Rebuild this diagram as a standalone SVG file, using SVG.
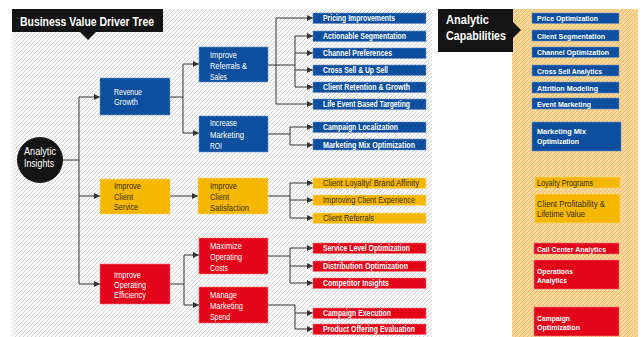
<svg xmlns="http://www.w3.org/2000/svg" width="642" height="337" viewBox="0 0 642 337">
<defs>
<pattern id="hatchGrey" patternUnits="userSpaceOnUse" width="4" height="4">
<rect width="4" height="4" fill="#ffffff"/>
<path d="M-1,1 l2,-2 M0,4 l4,-4 M3,5 l2,-2" stroke="#c4c4c4" stroke-width="0.8"/>
</pattern>
<pattern id="hatchOrange" patternUnits="userSpaceOnUse" width="4" height="4">
<rect width="4" height="4" fill="#fbd899"/>
<path d="M-1,1 l2,-2 M0,4 l4,-4 M3,5 l2,-2" stroke="#eab55e" stroke-width="0.8"/>
</pattern>
<marker id="arr" markerUnits="userSpaceOnUse" markerWidth="6" markerHeight="6" refX="6" refY="3" orient="auto">
<path d="M0,0 L6,3 L0,6 z" fill="#333"/>
</marker>
</defs>
<style>
text{font-family:"Liberation Sans",Arial,sans-serif}
.blue{fill:#0c4f9e;stroke:#6d8fc8;stroke-width:0.6}
.yel{fill:#f5b700;stroke:#f9d77a;stroke-width:0.6}
.red{fill:#e2051a;stroke:#f07a85;stroke-width:0.6}
.lv{font-size:9.5px;fill:#ffffff}
.lvd{font-size:9.5px;fill:#3a2e08}
.lf{font-size:8.3px;font-weight:bold;fill:#ffffff}
.lfd{font-size:8.5px;fill:#3a2e08}
.cap{font-size:8px;font-weight:bold;fill:#ffffff}
.capd{font-size:8.4px;fill:#3a2e08}
.conn path{fill:none;stroke:#333;stroke-width:1}
.a{marker-end:url(#arr)}
</style>

<rect x="12" y="9" width="420" height="328" fill="url(#hatchGrey)"/>
<rect x="512" y="9" width="126" height="328" fill="url(#hatchOrange)"/>

<g id="title">
<rect x="12" y="9" width="151" height="23" fill="#141414"/>
<path d="M80,32 L88,40 L96,32 z" fill="#141414"/>
<text x="20" y="25.5" font-size="13.5" font-weight="bold" fill="#ffffff" textLength="134" lengthAdjust="spacingAndGlyphs">Business Value Driver Tree</text>
</g>

<g id="capTitle">
<rect x="438" y="9" width="75" height="43" fill="#141414"/>
<path d="M513,22 L521,30 L513,38 z" fill="#141414"/>
<text x="446" y="24" font-size="12.5" font-weight="bold" fill="#ffffff" textLength="43" lengthAdjust="spacingAndGlyphs">Analytic</text>
<text x="446" y="39.5" font-size="12.5" font-weight="bold" fill="#ffffff" textLength="60" lengthAdjust="spacingAndGlyphs">Capabilities</text>
</g>

<g class="conn" id="connectors">
<path d="M63,160 H79 M79,97 V284"/>
<path class="a" d="M79,97 H100"/>
<path class="a" d="M79,196 H100"/>
<path class="a" d="M79,284 H100"/>
<path d="M170,97 H183 M183,64 V133"/>
<path class="a" d="M183,64 H199"/>
<path class="a" d="M183,133 H199"/>
<path class="a" d="M170,196 H198"/>
<path d="M170,284 H184 M184,255 V305"/>
<path class="a" d="M184,255 H199"/>
<path class="a" d="M184,305 H199"/>
<path d="M268,65 H295 M276,18 V104 M295,36 V87"/>
<path class="a" d="M276,18 H313"/>
<path class="a" d="M276,104 H313"/>
<path class="a" d="M295,36 H313"/>
<path class="a" d="M295,53 H313"/>
<path class="a" d="M295,70 H313"/>
<path class="a" d="M295,87 H313"/>
<path d="M268,134 H290 M290,127 V145"/>
<path class="a" d="M290,127 H313"/>
<path class="a" d="M290,145 H313"/>
<path d="M268,196 H290 M290,183 V218"/>
<path class="a" d="M290,183 H313"/>
<path class="a" d="M290,200 H313"/>
<path class="a" d="M290,218 H313"/>
<path d="M268,256 H290 M290,248 V283"/>
<path class="a" d="M290,248 H313"/>
<path class="a" d="M290,266 H313"/>
<path class="a" d="M290,283 H313"/>
<path d="M268,305 H295 V329"/>
<path class="a" d="M295,313 H313"/>
<path class="a" d="M295,329 H313"/>
</g>

<g id="analyticInsights">
<circle cx="40" cy="160" r="23" fill="#141414"/>
<text x="24" y="155" font-size="10" fill="#ffffff" textLength="32" lengthAdjust="spacingAndGlyphs">Analytic</text>
<text x="24" y="166.5" font-size="10" fill="#ffffff" textLength="30" lengthAdjust="spacingAndGlyphs">Insights</text>
</g>

<g id="revenueGrowth">
<rect class="blue" x="100" y="78" width="70" height="37"/>
<text class="lv" x="114" y="95" textLength="28" lengthAdjust="spacingAndGlyphs">Revenue</text>
<text class="lv" x="114" y="105" textLength="24" lengthAdjust="spacingAndGlyphs">Growth</text>
</g>
<g id="improveClientService">
<rect class="yel" x="100" y="179" width="70" height="35"/>
<text class="lvd" x="114" y="189" textLength="27" lengthAdjust="spacingAndGlyphs">Improve</text>
<text class="lvd" x="114" y="199.5" textLength="19" lengthAdjust="spacingAndGlyphs">Client</text>
<text class="lvd" x="114" y="210" textLength="24" lengthAdjust="spacingAndGlyphs">Service</text>
</g>
<g id="improveOperatingEfficiency">
<rect class="red" x="100" y="264" width="70" height="40"/>
<text class="lv" x="114" y="278" textLength="27" lengthAdjust="spacingAndGlyphs">Improve</text>
<text class="lv" x="114" y="288" textLength="32" lengthAdjust="spacingAndGlyphs">Operating</text>
<text class="lv" x="114" y="297.5" textLength="32" lengthAdjust="spacingAndGlyphs">Efficiency</text>
</g>

<g id="improveReferrals">
<rect class="blue" x="199" y="47" width="69" height="35"/>
<text class="lv" x="210" y="57.5" textLength="27" lengthAdjust="spacingAndGlyphs">Improve</text>
<text class="lv" x="210" y="68.5" textLength="37" lengthAdjust="spacingAndGlyphs">Referrals &amp;</text>
<text class="lv" x="210" y="80" textLength="17" lengthAdjust="spacingAndGlyphs">Sales</text>
</g>
<g id="increaseMarketingROI">
<rect class="blue" x="199" y="116" width="69" height="36"/>
<text class="lv" x="210" y="126" textLength="27" lengthAdjust="spacingAndGlyphs">Increase</text>
<text class="lv" x="210" y="137.5" textLength="34" lengthAdjust="spacingAndGlyphs">Marketing</text>
<text class="lv" x="210" y="148.5" textLength="12" lengthAdjust="spacingAndGlyphs">ROI</text>
</g>
<g id="improveClientSatisfaction">
<rect class="yel" x="198" y="178" width="70" height="36"/>
<text class="lvd" x="210" y="188.5" textLength="27" lengthAdjust="spacingAndGlyphs">Improve</text>
<text class="lvd" x="210" y="200" textLength="19" lengthAdjust="spacingAndGlyphs">Client</text>
<text class="lvd" x="210" y="211" textLength="39" lengthAdjust="spacingAndGlyphs">Satisfaction</text>
</g>
<g id="maximizeOperatingCosts">
<rect class="red" x="199" y="238" width="69" height="36"/>
<text class="lv" x="210" y="248.5" textLength="32" lengthAdjust="spacingAndGlyphs">Maximize</text>
<text class="lv" x="210" y="259.5" textLength="32" lengthAdjust="spacingAndGlyphs">Operating</text>
<text class="lv" x="210" y="271" textLength="18" lengthAdjust="spacingAndGlyphs">Costs</text>
</g>
<g id="manageMarketingSpend">
<rect class="red" x="199" y="287" width="69" height="36"/>
<text class="lv" x="210" y="298" textLength="27" lengthAdjust="spacingAndGlyphs">Manage</text>
<text class="lv" x="210" y="309" textLength="33" lengthAdjust="spacingAndGlyphs">Marketing</text>
<text class="lv" x="210" y="320" textLength="20" lengthAdjust="spacingAndGlyphs">Spend</text>
</g>

<g id="leafPricing"><rect class="blue" x="313" y="13" width="113" height="10.5"/><text class="lf" x="323" y="21" textLength="72" lengthAdjust="spacingAndGlyphs">Pricing Improvements</text></g>
<g id="leafSegmentation"><rect class="blue" x="313" y="31" width="113" height="10.5"/><text class="lf" x="323" y="39" textLength="83" lengthAdjust="spacingAndGlyphs">Actionable Segmentation</text></g>
<g id="leafChannel"><rect class="blue" x="313" y="48" width="113" height="10.5"/><text class="lf" x="323" y="56" textLength="69" lengthAdjust="spacingAndGlyphs">Channel  Preferences</text></g>
<g id="leafCrossSell"><rect class="blue" x="313" y="65" width="113" height="10.5"/><text class="lf" x="323" y="73" textLength="65" lengthAdjust="spacingAndGlyphs">Cross Sell &amp; Up Sell</text></g>
<g id="leafRetention"><rect class="blue" x="313" y="82" width="113" height="10.5"/><text class="lf" x="323" y="90" textLength="87" lengthAdjust="spacingAndGlyphs">Client Retention &amp; Growth</text></g>
<g id="leafLifeEvent"><rect class="blue" x="313" y="99" width="113" height="10.5"/><text class="lf" x="323" y="107" textLength="87" lengthAdjust="spacingAndGlyphs">Life Event Based Targeting</text></g>
<g id="leafCampaignLoc"><rect class="blue" x="313" y="122" width="113" height="10.5"/><text class="lf" x="323" y="130" textLength="75" lengthAdjust="spacingAndGlyphs">Campaign Localization</text></g>
<g id="leafMarketingMix"><rect class="blue" x="313" y="139" width="113" height="11"/><text class="lf" x="323" y="147.5" textLength="92" lengthAdjust="spacingAndGlyphs">Marketing Mix Optimization</text></g>

<g id="leafLoyalty"><rect class="yel" x="313" y="178" width="113" height="10.5"/><text class="lfd" x="323" y="186" textLength="96" lengthAdjust="spacingAndGlyphs">Client Loyalty/ Brand Affinity</text></g>
<g id="leafExperience"><rect class="yel" x="313" y="195" width="113" height="10.5"/><text class="lfd" x="323" y="203" textLength="92" lengthAdjust="spacingAndGlyphs">Improving Client Experience</text></g>
<g id="leafReferrals"><rect class="yel" x="313" y="213" width="113" height="10.5"/><text class="lfd" x="323" y="221" textLength="51" lengthAdjust="spacingAndGlyphs">Client Referrals</text></g>

<g id="leafServiceLevel"><rect class="red" x="313" y="243" width="113" height="10.5"/><text class="lf" x="323" y="251" textLength="87" lengthAdjust="spacingAndGlyphs">Service Level Optimization</text></g>
<g id="leafDistribution"><rect class="red" x="313" y="261" width="113" height="10.5"/><text class="lf" x="323" y="269" textLength="85" lengthAdjust="spacingAndGlyphs">Distribution Optimization</text></g>
<g id="leafCompetitor"><rect class="red" x="313" y="278" width="113" height="10.5"/><text class="lf" x="323" y="286" textLength="66" lengthAdjust="spacingAndGlyphs">Competitor Insights</text></g>
<g id="leafCampaignExec"><rect class="red" x="313" y="308" width="113" height="10.5"/><text class="lf" x="323" y="316" textLength="68" lengthAdjust="spacingAndGlyphs">Campaign Execution</text></g>
<g id="leafProductOffering"><rect class="red" x="313" y="324" width="113" height="10.5"/><text class="lf" x="323" y="332" textLength="92" lengthAdjust="spacingAndGlyphs">Product Offering Evaluation</text></g>

<g id="capPrice"><rect class="blue" x="532" y="13" width="87" height="10.5"/><text class="cap" x="537" y="21" textLength="61" lengthAdjust="spacingAndGlyphs">Price Optimization</text></g>
<g id="capSegmentation"><rect class="blue" x="532" y="30" width="87" height="11"/><text class="cap" x="537" y="38.5" textLength="68" lengthAdjust="spacingAndGlyphs">Client Segmentation</text></g>
<g id="capChannel"><rect class="blue" x="532" y="47" width="87" height="10.5"/><text class="cap" x="537" y="55" textLength="72" lengthAdjust="spacingAndGlyphs">Channel Optimization</text></g>
<g id="capCrossSell"><rect class="blue" x="532" y="65" width="87" height="11"/><text class="cap" x="537" y="73.5" textLength="65" lengthAdjust="spacingAndGlyphs">Cross Sell Analytics</text></g>
<g id="capAttrition"><rect class="blue" x="532" y="82" width="87" height="11"/><text class="cap" x="537" y="90.5" textLength="61" lengthAdjust="spacingAndGlyphs">Attrition Modeling</text></g>
<g id="capEvent"><rect class="blue" x="532" y="98" width="87" height="11"/><text class="cap" x="537" y="106.5" textLength="54" lengthAdjust="spacingAndGlyphs">Event Marketing</text></g>
<g id="capMarketingMix"><rect class="blue" x="532" y="122" width="89" height="29"/><text class="cap" x="537" y="134" textLength="49" lengthAdjust="spacingAndGlyphs">Marketing Mix</text><text class="cap" x="537" y="144" textLength="42" lengthAdjust="spacingAndGlyphs">Optimization</text></g>

<g id="capLoyalty"><rect class="yel" x="535" y="177" width="85" height="11"/><text class="capd" x="537" y="185.5" textLength="56" lengthAdjust="spacingAndGlyphs">Loyalty Programs</text></g>
<g id="capProfitability"><rect class="yel" x="535" y="194" width="85" height="29"/><text class="capd" x="537" y="207" textLength="68" lengthAdjust="spacingAndGlyphs">Client Profitability &amp;</text><text class="capd" x="537" y="217" textLength="48" lengthAdjust="spacingAndGlyphs">Lifetime Value</text></g>

<g id="capCallCenter"><rect class="red" x="534" y="243" width="85" height="11"/><text class="cap" x="537" y="251.5" textLength="69" lengthAdjust="spacingAndGlyphs">Call Center Analytics</text></g>
<g id="capOperations"><rect class="red" x="534" y="260" width="85" height="29"/><text class="cap" x="537" y="274" textLength="36" lengthAdjust="spacingAndGlyphs">Operations</text><text class="cap" x="537" y="282.5" textLength="30" lengthAdjust="spacingAndGlyphs">Analytics</text></g>
<g id="capCampaign"><rect class="red" x="534" y="307" width="85" height="29"/><text class="cap" x="537" y="321" textLength="33" lengthAdjust="spacingAndGlyphs">Campaign</text><text class="cap" x="537" y="330" textLength="43" lengthAdjust="spacingAndGlyphs">Optimization</text></g>
</svg>
